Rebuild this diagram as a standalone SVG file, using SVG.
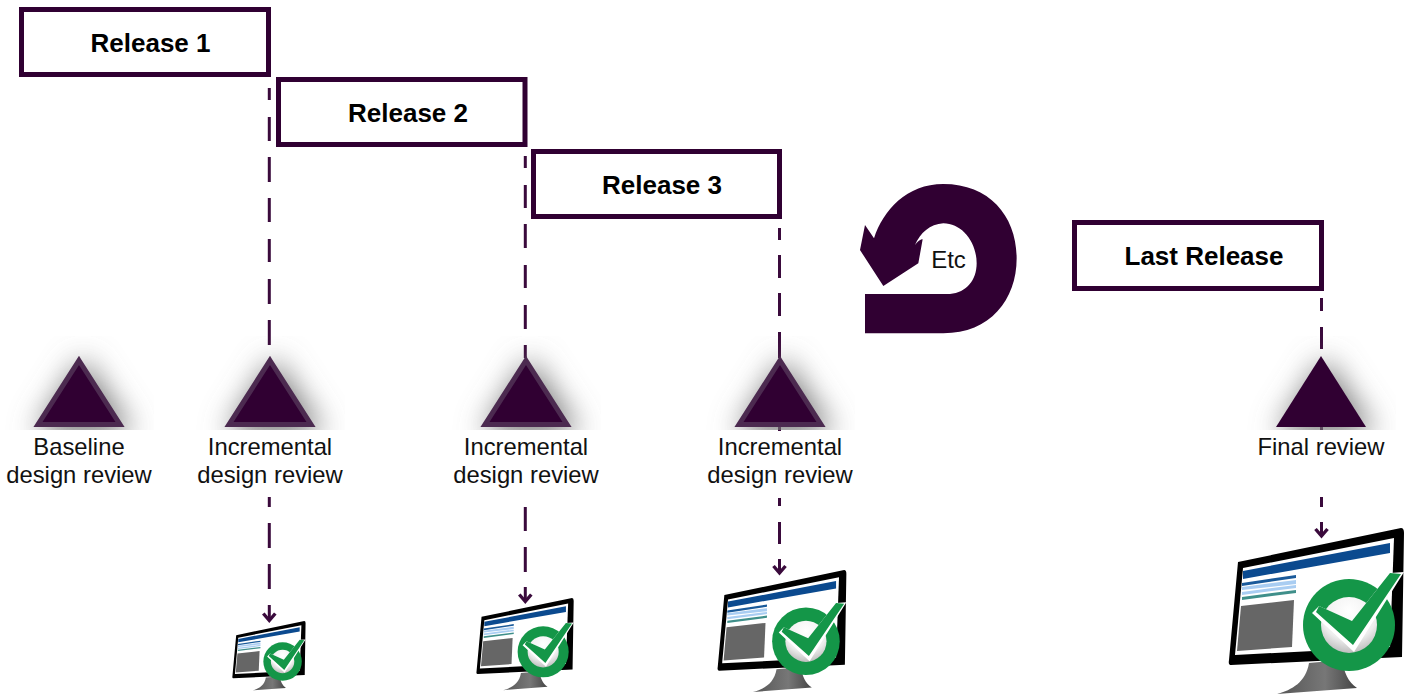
<svg xmlns="http://www.w3.org/2000/svg" width="1408" height="694" viewBox="0 0 1408 694">
<style>
.box{fill:#fff;stroke:#300032;stroke-width:5}
.rel{font:bold 26px "Liberation Sans",Arial,sans-serif;fill:#000;text-anchor:middle}
.lab{font:23.800px "Liberation Sans",Arial,sans-serif;fill:#111;text-anchor:middle}
.dash{fill:none;stroke:#3a0a3c;stroke-width:3}
.head{fill:none;stroke:#3a0a3c;stroke-width:3.400}
.tri{fill:#300032;stroke:#4c2a50;stroke-width:5}
</style>
<defs>
<filter id="blur" x="-60%" y="-60%" width="220%" height="220%"><feGaussianBlur stdDeviation="15"/></filter>
<clipPath id="clipT"><rect x="-75" y="-20" width="150" height="94"/></clipPath>
<radialGradient id="ball" cx="0.5" cy="0.25" r="0.85"><stop offset="0" stop-color="#fff"/><stop offset="0.6" stop-color="#eee"/><stop offset="1" stop-color="#aaa"/></radialGradient>
<linearGradient id="stand" x1="0" x2="1"><stop offset="0" stop-color="#555"/><stop offset="0.6" stop-color="#777"/><stop offset="1" stop-color="#444"/></linearGradient>
<g id="shadow"><g clip-path="url(#clipT)"><path d="M4 2L54 78H-44Z" fill="#777" filter="url(#blur)"/></g></g>
<g id="triangle"><use href="#shadow"/><path class="tri" d="M0 4.500L41 68.500H-41Z"/></g>
<g id="monitor">
<path d="M1309 663L1342 660C1344 672 1348 682 1357 688L1277 694C1292 690 1306 682 1309 663Z" fill="url(#stand)"/>
<path d="M1238 562L1401 528Q1404 528 1404 533L1402 657L1231 665Q1228 665 1229 660Z" fill="#000"/>
<path d="M1243 568L1394 538L1390 647L1235 655Z" fill="#fff"/>
<path d="M1243 571L1390 543L1390 553L1243 579Z" fill="#0b4a8f"/>
<path d="M1242 583L1296 575V578L1242 586Z" fill="#1a5a9a"/>
<path d="M1242 587L1296 580V584L1242 590Z" fill="#a9cdf2"/>
<path d="M1242 592L1296 585V588L1242 595Z" fill="#a9cdf2"/>
<path d="M1242 597L1296 590V593L1242 600Z" fill="#3f8f8a"/>
<path d="M1241 606L1294 600L1292 647L1237 651Z" fill="#666"/>
<circle cx="1349" cy="625" r="46" fill="#149648"/>
<circle cx="1349" cy="625" r="28" fill="url(#ball)"/>
<path d="M1312 613L1319 606L1352 621L1390 573L1404 572L1354 652Z" fill="#fff"/>
<path d="M1316 612L1319 606L1352 621L1390 573L1401 574L1353 645Z" fill="#149648"/>
</g>
</defs>
<g id="connectors">
<path class="dash" d="M269.300 88V100M269.300 117V141M269.300 157V182M269.300 198V222M269.300 239V262M269.300 279V304M269.300 320V345"/>
<path class="dash" d="M269.300 497V507M269.300 523V548M269.300 564V589M269.300 605V620"/>
<path class="head" d="M263.300 613.500L269.300 620.500L275.300 613.500"/>
<path class="dash" d="M525.300 156V168M525.300 185V208M525.300 224V248M525.300 265V288M525.300 305V329M525.300 345V358"/>
<path class="dash" d="M525.300 507V531M525.300 547V572M525.300 587V601"/>
<path class="head" d="M519.300 594.500L525.300 601.500L531.300 594.500"/>
<path class="dash" d="M779.500 228V240M779.500 255V278M779.500 293V316M779.500 332V358"/>
<path class="dash" d="M779.500 427V431M779.500 498V506M779.500 522V544M779.500 559V572"/>
<path class="head" d="M773.500 566L779.500 573L785.500 566"/>
<path class="dash" d="M1321.500 298V311M1321.500 327V349"/>
<path class="dash" d="M1321.500 427V430M1321.500 497V507M1321.500 522V535"/>
<path class="head" d="M1315.500 529L1321.500 536L1327.500 529"/>
</g>
<g id="release-1"><rect class="box" x="21.500" y="9.500" width="247" height="65"/><text class="rel" x="150.500" y="52">Release 1</text></g>
<g id="release-2"><rect class="box" x="278.500" y="79.500" width="246.500" height="65"/><text class="rel" x="408" y="122">Release 2</text></g>
<g id="release-3"><rect class="box" x="533.500" y="151.500" width="246" height="65"/><text class="rel" x="662" y="194">Release 3</text></g>
<g id="last-release"><rect class="box" x="1074.500" y="222.500" width="247" height="66"/><text class="rel" x="1204" y="265">Last Release</text></g>
<g id="etc"><path transform="translate(850 170) scale(.3333)" fill="#300032" d="M45 372H300C350 368 380 330 380 280C380 215 335 160 280 160C240 162 210 190 195 225C205 212 212 208 218 208L205 280L100 348L30 240L45 165L72 205C100 120 170 42 280 42C420 42 500 140 500 265C500 390 420 490 280 490H45Z"/><text class="lab" x="948.500" y="268" style="font-size:24px">Etc</text></g>
<g id="baseline"><use href="#triangle" x="79" y="356"/><text class="lab" x="79" y="455">Baseline</text><text class="lab" x="79" y="483">design review</text></g>
<g id="review-1"><use href="#triangle" x="270" y="356"/><text class="lab" x="270" y="455">Incremental</text><text class="lab" x="270" y="483">design review</text></g>
<g id="review-2"><use href="#triangle" x="526" y="356"/><text class="lab" x="526" y="455">Incremental</text><text class="lab" x="526" y="483">design review</text></g>
<g id="review-3"><use href="#triangle" x="780" y="356"/><text class="lab" x="780" y="455">Incremental</text><text class="lab" x="780" y="483">design review</text></g>
<g id="final"><use href="#shadow" x="1321" y="356"/><path d="M1321 356L1366 427H1276Z" fill="#300032"/><text class="lab" x="1321" y="455">Final review</text></g>
<g id="monitor-1"><use href="#monitor" transform="translate(232 621) scale(.418) translate(-1228 -528)"/></g>
<g id="monitor-2"><use href="#monitor" transform="translate(476 598) scale(.555) translate(-1228 -528)"/></g>
<g id="monitor-3"><use href="#monitor" transform="translate(717 570) scale(.735) translate(-1228 -528)"/></g>
<g id="monitor-4"><use href="#monitor"/></g>
</svg>
